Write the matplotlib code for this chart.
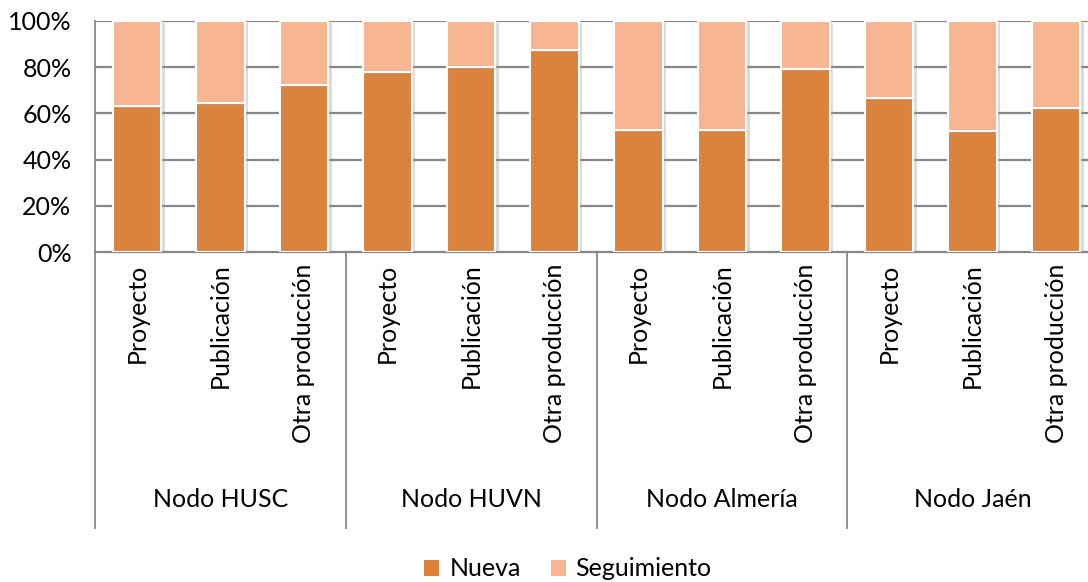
import matplotlib
matplotlib.use("Agg")
import matplotlib.pyplot as plt
import matplotlib.patheffects as pe
from matplotlib.lines import Line2D
from matplotlib.patches import Patch
import numpy as np

grupos = ["Nodo HUSC", "Nodo HUVN", "Nodo Almería", "Nodo Jaén"]
tipos = ["Proyecto", "Publicación", "Otra producción"]
nueva = [63.2, 64.4, 72.3, 77.9, 80.0, 87.5, 52.8, 52.8, 79.2, 66.7, 52.4, 62.3]
seguimiento = [100 - v for v in nueva]

c_nueva = "#D9833F"
c_seg = "#F8B592"
grid_c = "#878787"
fs = 18

plt.rcParams["font.family"] = ["Lato", "DejaVu Sans"]

fig = plt.figure(figsize=(10.88, 5.82), dpi=100)
W, H = 1088, 582
x0, y0, x1, y1 = 95, 21, 1098, 252
ax = fig.add_axes([x0 / W, 1 - y1 / H, (x1 - x0) / W, (y1 - y0) / H])

n = len(nueva)
x = np.arange(n)
shadow = [pe.SimplePatchShadow(offset=(2.5, -1.5), shadow_rgbFace="#999999", alpha=0.35), pe.Normal()]
ax.bar(x, nueva, width=0.58, color=c_nueva, edgecolor="white", linewidth=1.5,
       path_effects=shadow, zorder=3)
ax.bar(x, seguimiento, width=0.58, bottom=nueva, color=c_seg, edgecolor="white",
       linewidth=1.5, path_effects=shadow, zorder=3)

ax.set_xlim(-0.5, n - 0.5)
ax.set_ylim(0, 100)
ax.set_yticks(range(0, 101, 20))
ax.set_yticklabels([f"{v}%" for v in range(0, 101, 20)], fontsize=fs)
ax.tick_params(axis="y", length=0, pad=17)
ax.set_xticks([])
for yv in range(20, 101, 20):
    ax.axhline(yv, color=grid_c, lw=1.6, zorder=1)
for s in ["top", "right"]:
    ax.spines[s].set_visible(False)
ax.spines["left"].set_color(grid_c)
ax.spines["bottom"].set_color(grid_c)
ax.spines["left"].set_linewidth(1.3)
ax.spines["bottom"].set_linewidth(1.6)

# category labels (two levels)
for i in range(n):
    ax.text(i, -5, tipos[i % 3], rotation=90, ha="center", va="top", fontsize=fs,
            transform=ax.transData, clip_on=False)
for g, nombre in enumerate(grupos):
    ax.text(3 * g + 1, -107, nombre, ha="center", va="center", fontsize=fs, clip_on=False)

sep_bottom = -(528 - y1) / (y1 - y0) * 100
for g in range(len(grupos) + 1):
    xs = 3 * g - 0.5
    ax.add_line(Line2D([xs, xs], [0, sep_bottom], color=grid_c, lw=1.3, clip_on=False))

handles = [Patch(facecolor=c_nueva, edgecolor="none"), Patch(facecolor=c_seg, edgecolor="none")]
fig.legend(handles, ["Nueva", "Seguimiento"], loc="center", ncol=2,
           bbox_to_anchor=(568 / W, 1 - 569 / H), frameon=False, fontsize=fs,
           handlelength=0.6, handleheight=0.6, handletextpad=0.4, columnspacing=1.2)

fig.savefig("out.png", dpi=100)
